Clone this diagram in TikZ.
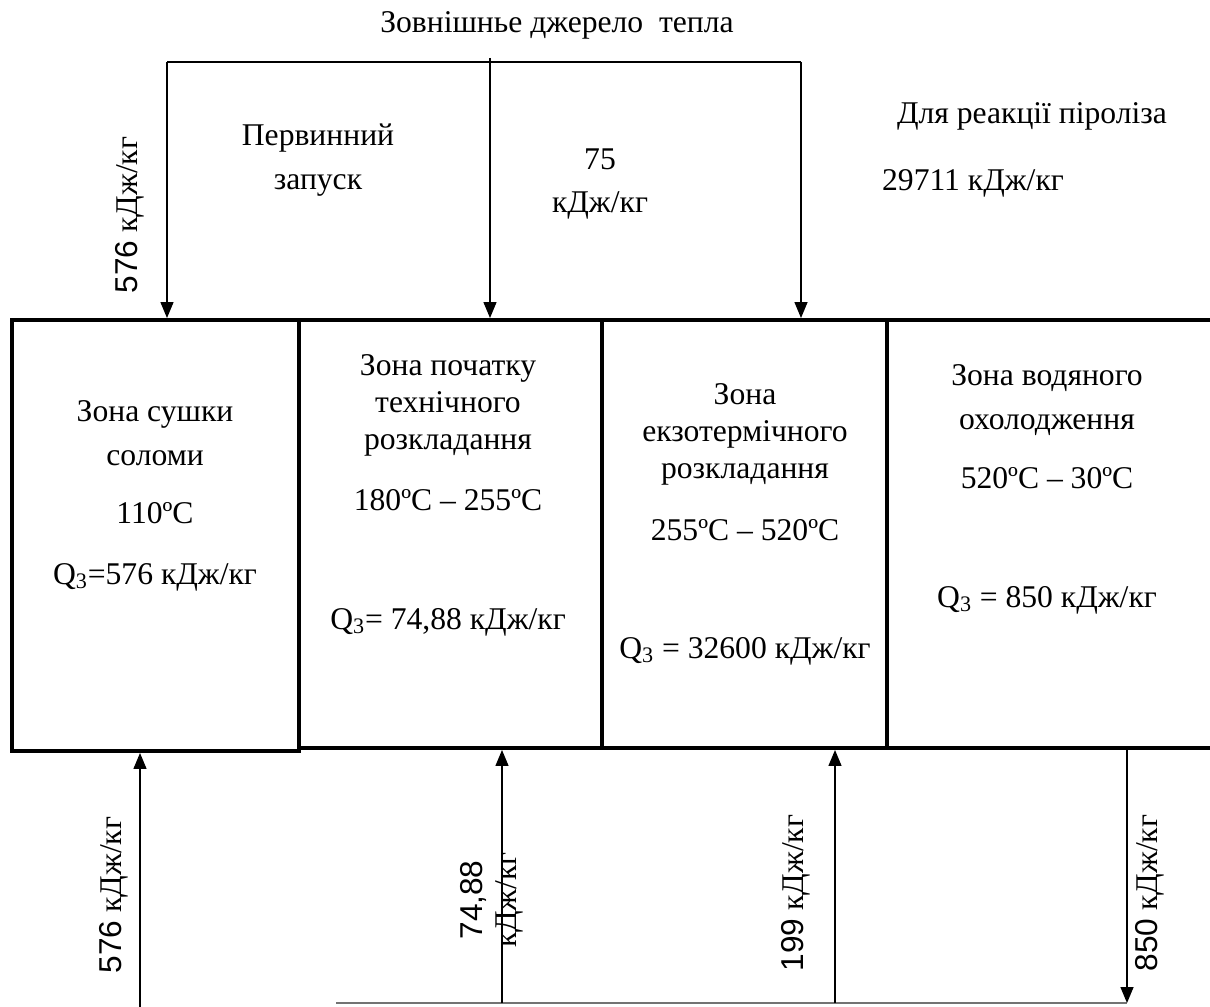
\documentclass[tikz,border=0pt]{standalone}
\usepackage{fontspec}
\setmainfont{Liberation Serif}
\newfontfamily\numfont{Liberation Sans}
\usetikzlibrary{arrows.meta}

\begin{document}
\begin{tikzpicture}[
  x=0.02cm, y=-0.02cm,
  >={Triangle[length=3.2mm, width=2.6mm]},
  every node/.style={font=\fontsize{18}{21}\selectfont, inner sep=0pt},
  zone/.style={draw, line width=2.3pt, inner sep=0pt},
  flow/.style={->, line width=0.8pt},
  txt/.style={align=center},
  vlab/.style={rotate=90, align=center},
]
\useasboundingbox (0,0) rectangle (1210,1007);

\node[zone, minimum width=5.74cm, minimum height=8.62cm] (z1) at (155.5,535.5) {};
\node[zone, minimum width=6.06cm, minimum height=8.56cm] (z2) at (450.5,534) {};
\node[zone, minimum width=5.70cm, minimum height=8.56cm] (z3) at (744.5,534) {};
\node[zone, minimum width=6.54cm, minimum height=8.56cm] (z4) at (1050.5,534) {};

% zone texts
\node[txt] (n1a) at (155,433) {Зона сушки\\[4pt]соломи};
\node[txt] (n1b) at (155,513) {110ºC};
\node[txt] (n1c) at (155,577) {Q\textsubscript{3}=576 кДж/кг};

\node[txt] (n2a) at (448,405) {Зона початку\\технічного\\розкладання};
\node[txt] (n2b) at (448,500) {180ºC – 255ºC};
\node[txt] (n2c) at (448,622) {Q\textsubscript{3}= 74,88 кДж/кг};

\node[txt] (n3a) at (745,434) {Зона\\екзотермічного\\розкладання};
\node[txt] (n3b) at (745,530) {255ºC – 520ºC};
\node[txt] (n3c) at (745,651) {Q\textsubscript{3} = 32600 кДж/кг};

\node[txt] (n4a) at (1047,400) {Зона водяного\\[4pt]охолодження};
\node[txt] (n4b) at (1047,478) {520ºC – 30ºC};
\node[txt] (n4c) at (1047,600) {Q\textsubscript{3} = 850 кДж/кг};

% external heat source
\node (src) at (557,25) {Зовнішнье джерело\ \ тепла};
\coordinate (tl) at (167,62);
\coordinate (tm) at (490,58);
\coordinate (tr) at (801,62);
\draw[line width=0.8pt] (tl) -- (tr);
\draw[flow] (tl) -- (tl |- z1.north);
\draw[flow] (tm) -- (tm |- z2.north);
\draw[flow] (tr) -- (tr |- z3.north);

\node[vlab] (q1) at (130,215) {{\numfont 576} кДж/кг};
\node[txt] (start) at (318,160) {Первинний\\[4pt]запуск};
\node[txt] (q2) at (600,184) {75\\[4pt]кДж/кг};
\node (pyr) at (1032,116) {Для реакції піроліза};
\node (q3) at (973,183) {29711 кДж/кг};

% bottom flows
\coordinate (b1) at (140,1010);
\coordinate (bl) at (336,1003);
\coordinate (b2) at (502,1003);
\coordinate (b3) at (835,1003);
\coordinate (br) at (1127,1003);
\draw[line width=0.8pt, black!55] (bl) -- (br);
\draw[flow] (b1) -- (b1 |- z1.south);
\draw[flow] (b2) -- (b2 |- z2.south);
\draw[flow] (b3) -- (b3 |- z3.south);
\draw[flow] (br |- z4.south) -- (br);

\node[vlab] (u1) at (114,895) {{\numfont 576} кДж/кг};
\node[vlab] (u2) at (492,900) {{\numfont 74,88}\\[-2pt]кДж/кг};
\node[vlab] (u3) at (796,893) {{\numfont 199} кДж/кг};
\node[vlab] (u4) at (1150,893) {{\numfont 850} кДж/кг};
\end{tikzpicture}
\end{document}
